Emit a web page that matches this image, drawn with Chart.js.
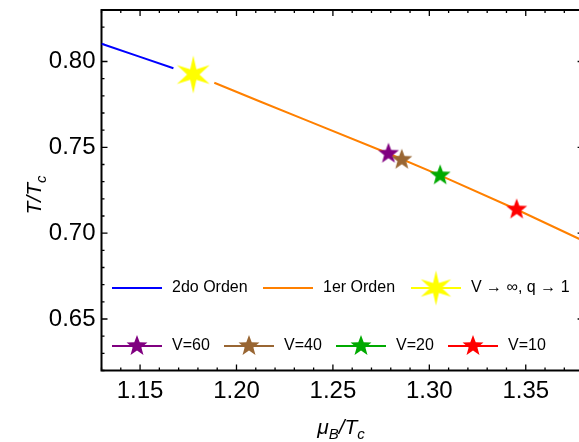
<!DOCTYPE html>
<html>
<head>
<meta charset="utf-8">
<script src="https://cdn.jsdelivr.net/npm/chart.js@4.4.1/dist/chart.umd.min.js"></script>
<style>
  html, body { margin: 0; padding: 0; background: #fff; overflow: hidden; }
  #wrap { width: 579px; height: 442px; overflow: hidden; }
</style>
</head>
<body>
<div id="wrap"><canvas id="chart" width="600" height="442"></canvas></div>
<script>
// transition lines in the (mu_B/T_c, T/T_c) plane
const secondOrderX = [1.13, 1.15, 1.1673];
const secondOrderY = [0.8103, 0.8027, 0.7961];
const firstOrderX = [1.1885, 1.2122, 1.2364, 1.2788, 1.3056, 1.3453, 1.3773, 1.38];
const firstOrderY = [0.7876, 0.7767, 0.7657, 0.7464, 0.7337, 0.7138, 0.6969, 0.6955];

// critical end point, infinite volume limit
const limitX = [1.1776];
const limitY = [0.7924];

// critical end points at finite volume
const volumeLabels = ['V=60', 'V=40', 'V=20', 'V=10'];
const volumeColors = ['rgb(128,0,128)', 'rgb(153,102,51)', 'rgb(0,170,0)', 'rgb(255,0,0)'];
const volumeX = [1.2788, 1.2857, 1.3056, 1.3453];
const volumeY = [0.7463, 0.7428, 0.7337, 0.7138];

const xTicks = [1.15, 1.20, 1.25, 1.30, 1.35];
const yTicks = [0.65, 0.70, 0.75, 0.80];

const BLUE = 'rgb(0,0,255)';
const ORANGE = 'rgb(255,128,0)';
const YELLOW = 'rgb(255,255,0)';
const FONT = "'Liberation Sans', Arial, sans-serif";

function starCanvas(n, outer, inner, color) {
  const size = Math.ceil(outer * 2) + 2;
  const c = document.createElement('canvas');
  c.width = c.height = size;
  const g = c.getContext('2d');
  g.translate(size / 2, size / 2);
  g.beginPath();
  for (let i = 0; i < 2 * n; i++) {
    const r = i % 2 ? inner : outer;
    const a = -Math.PI / 2 + i * Math.PI / n;
    g.lineTo(r * Math.cos(a), r * Math.sin(a));
  }
  g.closePath();
  g.fillStyle = color;
  g.fill();
  return c;
}

const bigStar = starCanvas(6, 19, 6.2, YELLOW);
const legendBigStar = starCanvas(6, 17.5, 5.8, YELLOW);
const smallStars = volumeColors.map(c => starCanvas(5, 11, 4.6, c));

const pts = (xs, ys) => xs.map((x, i) => ({ x, y: ys[i] }));

const datasets = [
  {
    data: pts(secondOrderX, secondOrderY), showLine: true, borderColor: BLUE,
    borderWidth: 2, pointRadius: 0, order: 10
  },
  {
    data: pts(firstOrderX, firstOrderY), showLine: true, borderColor: ORANGE,
    borderWidth: 2, pointRadius: 0, order: 9
  },
  {
    data: pts(limitX, limitY), pointStyle: bigStar, pointRadius: 19, order: 6
  }
];
volumeLabels.forEach((label, i) => {
  datasets.push({
    label, data: [{ x: volumeX[i], y: volumeY[i] }],
    pointStyle: smallStars[i], pointRadius: 11, order: 5 - i
  });
});

// frame with inward ticks on all four sides
const framePlugin = {
  id: 'frame',
  beforeDatasetsDraw(chart) {
    const { ctx, chartArea: a, scales: { x, y } } = chart;
    ctx.save();
    ctx.strokeStyle = '#000';
    ctx.lineWidth = 1.3;
    ctx.beginPath();
    for (let i = 113; i <= 138; i++) {
      const px = x.getPixelForValue(i / 100);
      const len = i % 5 === 0 ? 6 : 3;
      ctx.moveTo(px, a.bottom); ctx.lineTo(px, a.bottom - len);
      ctx.moveTo(px, a.top); ctx.lineTo(px, a.top + len);
    }
    for (let i = 62; i <= 83; i++) {
      const py = y.getPixelForValue(i / 100);
      const len = i % 5 === 0 ? 6 : 3;
      ctx.moveTo(a.left, py); ctx.lineTo(a.left + len, py);
      ctx.moveTo(a.right, py); ctx.lineTo(a.right - len, py);
    }
    ctx.stroke();
    ctx.lineWidth = 2;
    ctx.strokeRect(a.left, a.top, a.right - a.left, a.bottom - a.top);
    ctx.restore();
  }
};

function drawParts(ctx, parts, cx, cy) {
  const widths = parts.map(p => { ctx.font = p.font; return ctx.measureText(p.t).width; });
  let xx = cx - widths.reduce((s, w) => s + w, 0) / 2;
  parts.forEach((p, i) => {
    ctx.font = p.font;
    ctx.fillText(p.t, xx, cy + (p.dy || 0));
    xx += widths[i];
  });
}

const titlePlugin = {
  id: 'titles',
  afterDraw(chart) {
    const { ctx } = chart;
    const big = `italic 21px ${FONT}`;
    const sub = `italic 15px ${FONT}`;
    ctx.save();
    ctx.fillStyle = '#000';
    ctx.textBaseline = 'alphabetic';
    ctx.textAlign = 'left';
    drawParts(ctx, [
      { t: 'μ', font: big }, { t: 'B', font: sub, dy: 5 },
      { t: '/T', font: big }, { t: 'c', font: sub, dy: 5 }
    ], 341, 434);
    ctx.translate(41, 195);
    ctx.rotate(-Math.PI / 2);
    drawParts(ctx, [
      { t: 'T/T', font: big }, { t: 'c', font: sub, dy: 5 }
    ], 0, 0);
    ctx.restore();
  }
};

// two-row legend inside the plot
const legendPlugin = {
  id: 'legendRows',
  afterDraw(chart) {
    const { ctx } = chart;
    ctx.save();
    ctx.font = `16px ${FONT}`;
    ctx.textBaseline = 'middle';
    ctx.fillStyle = '#000';
    const entry = (x, y, color, text, img) => {
      ctx.strokeStyle = color;
      ctx.lineWidth = 2;
      ctx.beginPath();
      ctx.moveTo(x, y); ctx.lineTo(x + 50, y);
      ctx.stroke();
      if (img) ctx.drawImage(img, x + 25 - img.width / 2, y - img.height / 2);
      ctx.fillText(text, x + 60, y);
    };
    entry(112, 288, BLUE, '2do Orden');
    entry(263, 288, ORANGE, '1er Orden');
    entry(411, 288, YELLOW, 'V → ∞, q → 1', legendBigStar);
    const starts = [112, 224, 336, 448];
    volumeLabels.forEach((label, i) => {
      entry(starts[i], 346, volumeColors[i], label, smallStars[i]);
    });
    ctx.restore();
  }
};

const noPadding = s => {
  s.paddingTop = 0; s.paddingBottom = 0; s.paddingLeft = 0; s.paddingRight = 0;
};

new Chart(document.getElementById('chart'), {
  type: 'scatter',
  data: { datasets },
  options: {
    responsive: false,
    animation: false,
    devicePixelRatio: 1,
    layout: { autoPadding: false, padding: { left: 0, right: 16.4, top: 10, bottom: 0 } },
    plugins: { legend: { display: false }, tooltip: { enabled: false } },
    scales: {
      x: {
        type: 'linear', min: 1.13, max: 1.38,
        grid: { display: false, drawTicks: false }, border: { display: false },
        afterBuildTicks: s => { s.ticks = xTicks.map(v => ({ value: v })); },
        afterFit: s => { s.height = 71.5; noPadding(s); },
        ticks: {
          color: '#000', padding: 6, autoSkip: false, maxRotation: 0,
          font: { family: FONT, size: 24 },
          callback: v => v.toFixed(2)
        }
      },
      y: {
        type: 'linear', min: 0.62, max: 0.83,
        grid: { display: false, drawTicks: false }, border: { display: false },
        afterBuildTicks: s => { s.ticks = yTicks.map(v => ({ value: v })); },
        afterFit: s => { s.width = 101.5; noPadding(s); },
        ticks: {
          color: '#000', padding: 6, autoSkip: false,
          font: { family: FONT, size: 24 },
          callback: v => v.toFixed(2)
        }
      }
    }
  },
  plugins: [framePlugin, titlePlugin, legendPlugin]
});
</script>
</body>
</html>
